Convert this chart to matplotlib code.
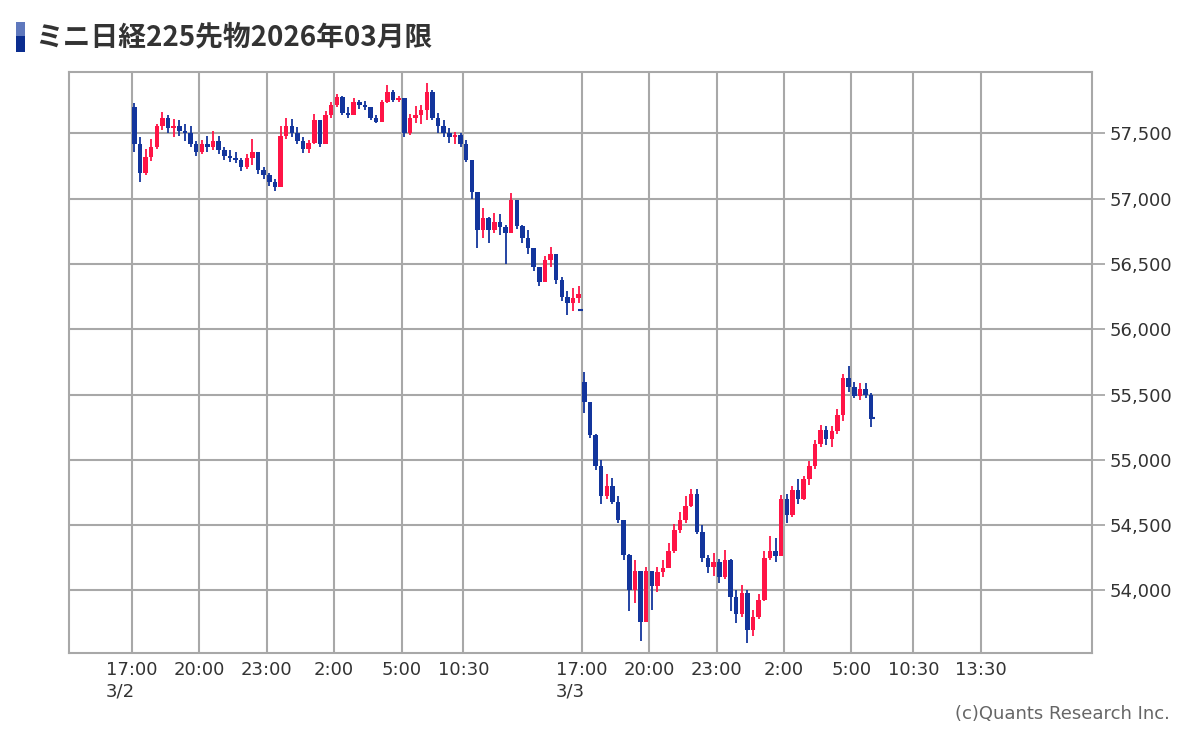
import matplotlib
matplotlib.use("Agg")
import matplotlib.pyplot as plt
from matplotlib.patches import Rectangle
import numpy as np

# 15-minute bars, open = previous close
BAR_HOURS = 0.25

# 3/2 17:00 -> 3/3 15:45 session
day1_open = 57700
day1_close = [57420, 57200, 57320, 57400, 57560, 57620, 57540, 57560, 57520, 57500,
              57420, 57360, 57420, 57400, 57440, 57370, 57330, 57310, 57300, 57240,
              57310, 57360, 57220, 57180, 57130, 57090, 57480, 57560, 57500, 57440,
              57380, 57430, 57600, 57420, 57640, 57720, 57780, 57660, 57640, 57740,
              57720, 57700, 57620, 57590, 57740, 57820, 57760, 57770, 57500, 57620,
              57640, 57680, 57820, 57620, 57560, 57500, 57470, 57490, 57420, 57300,
              57050, 56760, 56850, 56760, 56820, 56780, 56740, 56990, 56790, 56700,
              56620, 56480, 56360, 56530, 56580, 56380, 56250, 56200, 56240, 56270]
day1_high = [57730, 57470, 57380, 57460, 57570, 57665, 57640, 57610, 57600, 57570,
             57560, 57440, 57450, 57480, 57520, 57480, 57400, 57370, 57360, 57310,
             57340, 57460, 57360, 57240, 57200, 57150, 57560, 57615, 57610, 57550,
             57470, 57450, 57650, 57600, 57670, 57740, 57805, 57790, 57700, 57770,
             57760, 57750, 57700, 57640, 57760, 57870, 57830, 57790, 57770, 57650,
             57710, 57720, 57885, 57830, 57660, 57600, 57540, 57510, 57505, 57450,
             57280, 56980, 56930, 56860, 56890, 56880, 56800, 57045, 56980, 56800,
             56760, 56600, 56460, 56560, 56630, 56580, 56400, 56290, 56320, 56330]
day1_low = [57360, 57130, 57180, 57290, 57380, 57530, 57500, 57470, 57480, 57440,
            57400, 57330, 57340, 57360, 57370, 57340, 57300, 57280, 57270, 57215,
            57230, 57260, 57190, 57150, 57100, 57063, 57090, 57460, 57470, 57420,
            57350, 57350, 57420, 57395, 57420, 57620, 57700, 57640, 57620, 57640,
            57690, 57680, 57600, 57580, 57590, 57730, 57740, 57740, 57470, 57490,
            57580, 57570, 57600, 57600, 57500, 57470, 57430, 57420, 57400, 57280,
            57000, 56620, 56700, 56660, 56740, 56720, 56500, 56740, 56770, 56660,
            56580, 56450, 56335, 56360, 56480, 56350, 56220, 56110, 56140, 56200]

# 3/3 17:00 -> 3/4 5:45
day2_open = 55600
day2_close = [55440, 55190, 54950, 54720, 54800, 54680, 54540, 54270, 54000, 54150,
              53760, 54150, 54030, 54140, 54170, 54300, 54460, 54540, 54650, 54740,
              54450, 54250, 54180, 54220, 54100, 54230, 53950, 53820, 53980, 53700,
              53800, 53930, 54250, 54300, 54260, 54700, 54580, 54770, 54700, 54850,
              54950, 55120, 55230, 55160, 55220, 55340, 55630, 55560, 55490, 55540,
              55500, 55310]
day2_high = [55675, 55420, 55200, 55000, 54890, 54860, 54720, 54540, 54280, 54230,
             54150, 54180, 54150, 54180, 54230, 54360, 54510, 54600, 54720, 54780,
             54780, 54500, 54270, 54290, 54240, 54310, 54240, 54000, 54040, 54000,
             53850, 53970, 54300, 54420, 54400, 54730, 54740, 54800, 54850, 54880,
             54990, 55150, 55270, 55260, 55260, 55390, 55660, 55717, 55600, 55590,
             55590, 55510]
day2_low = [55360, 55170, 54920, 54660, 54700, 54660, 54520, 54230, 53840, 53900,
            53610, 53760, 53850, 53990, 54100, 54180, 54290, 54440, 54520, 54640,
            54430, 54220, 54130, 54110, 54060, 54090, 53840, 53750, 53800, 53595,
            53650, 53780, 53920, 54230, 54220, 54260, 54520, 54560, 54660, 54690,
            54810, 54930, 55100, 55110, 55100, 55200, 55300, 55520, 55470, 55460,
            55470, 55250]

# closing prints at the end of each session
close_print_hours = [19.95, 32.95]
close_print_prices = [56150, 55320]

# session hours from 3/2 17:00 (night 17:00-6:00, day 8:45-15:45)
tick_hours = [0, 3, 6, 9, 12, 14.75, 20, 23, 26, 29, 32, 34.75, 37.75]
tick_labels = ["17:00\n3/2", "20:00", "23:00", "2:00", "5:00", "10:30",
               "17:00\n3/3", "20:00", "23:00", "2:00", "5:00", "10:30", "13:30"]
price_ticks = [54000, 54500, 55000, 55500, 56000, 56500, 57000, 57500]

RED = "#ff1446"
BLUE = "#13359c"
GRID = "#a8a8a8"

fig = plt.figure(figsize=(12, 7.32), dpi=100)
ax = fig.add_axes([0.0575, 0.108, 0.8525, 0.7937])


def draw_session(ax, start_hour, first_open, closes, highs, lows):
    closes = np.array(closes, dtype=float)
    opens = np.concatenate([[first_open], closes[:-1]])
    x = start_hour + np.arange(len(closes)) * BAR_HOURS + BAR_HOURS / 2
    cols = [RED if c >= o else BLUE for o, c in zip(opens, closes)]
    ax.vlines(x, lows, highs, colors=cols, lw=1.3, zorder=3)
    body = closes - opens
    body = np.where(np.abs(body) < 8, 8, body)
    ax.bar(x, body, bottom=opens, width=0.2, color=cols, lw=0, zorder=4)


draw_session(ax, 0, day1_open, day1_close, day1_high, day1_low)
draw_session(ax, 20, day2_open, day2_close, day2_high, day2_low)
ax.hlines(close_print_prices, np.array(close_print_hours) - 0.1,
          np.array(close_print_hours) + 0.1, colors=BLUE, lw=1.5, zorder=4)

ax.set_xlim(-2.78, 42.69)
ax.set_ylim(53521, 57971)

ax.set_xticks(tick_hours)
ax.set_xticklabels(tick_labels, fontsize=13, color="#333333", multialignment="left")
ax.set_yticks(price_ticks)
ax.set_yticklabels([f"{p:,}" for p in price_ticks], fontsize=13, color="#333333")
ax.yaxis.tick_right()
ax.tick_params(axis="y", length=9, width=1.3, color=GRID, pad=4)
ax.tick_params(axis="x", length=0, pad=6)
ax.grid(True, color=GRID, lw=1.5, zorder=0)
ax.set_axisbelow(True)
for sp in ax.spines.values():
    sp.set_color(GRID)
    sp.set_linewidth(1.5)

# title with small gradient marker
fig.add_artist(Rectangle((16 / 1200, 1 - 52 / 732), 9 / 1200, 16 / 732,
                         transform=fig.transFigure, color="#0b2d8f", lw=0))
fig.add_artist(Rectangle((16 / 1200, 1 - 36 / 732), 9 / 1200, 14 / 732,
                         transform=fig.transFigure, color="#5f78bd", lw=0))
fig.text(35 / 1200, 1 - 37 / 732, "ミニ日経225先物2026年03月限",
         family=["Noto Sans CJK JP", "DejaVu Sans"], fontweight="bold",
         fontsize=20, color="#333333", va="center", ha="left")

fig.text(1170 / 1200, 1 - 714 / 732, "(c)Quants Research Inc.",
         family=["Liberation Sans Narrow", "DejaVu Sans"], fontsize=13,
         color="#666666", va="center", ha="right")

fig.savefig("out.png", dpi=100)
plt.close()
